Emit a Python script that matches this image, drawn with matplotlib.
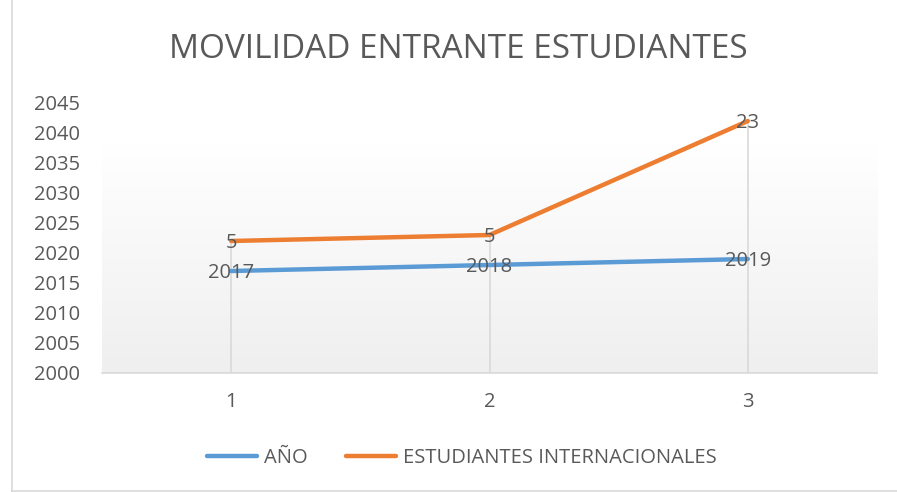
import numpy as np
import matplotlib.pyplot as plt
from matplotlib.lines import Line2D
from matplotlib.colors import LinearSegmentedColormap

# chart data (stacked line chart, Excel style)
categories = [1, 2, 3]
anio = [2017, 2018, 2019]
estudiantes = [5, 5, 23]
yticks = list(range(2000, 2050, 5))

blue = '#5b9bd5'
orange = '#ed7d31'
text_gray = '#595959'
grid_gray = '#d9d9d9'

plt.rcParams['font.family'] = ['Open Sans', 'DejaVu Sans']

fig = plt.figure(figsize=(8.97, 4.92), dpi=100)
W, H = 897, 492
ax = fig.add_axes([102 / W, 1 - 373 / H, 775 / W, 270 / H])

# gradient background of the plot area
grad = np.linspace(0, 1, 256).reshape(-1, 1)
bg = LinearSegmentedColormap.from_list('bg', [(0, '#ffffff'), (0.15, '#ffffff'), (1, '#efefef')])
ax.imshow(grad, extent=[0, 1, 0, 1], transform=ax.transAxes, aspect='auto',
          cmap=bg, origin='upper', zorder=0)

stacked = [a + e for a, e in zip(anio, estudiantes)]

# drop lines from top series to the axis
for x, top in zip(categories, stacked):
    ax.plot([x, x], [2000, top], color=grid_gray, lw=1.2, zorder=1)

ax.plot(categories, anio, color=blue, lw=3.2, solid_capstyle='round', zorder=3)
ax.plot(categories, stacked, color=orange, lw=3.2, solid_capstyle='round', zorder=3)

for x, y, v in zip(categories, anio, anio):
    ax.text(x, y - 0.3, str(v), ha='center', va='center', fontsize=14.5, color=text_gray, zorder=4)
for x, y, v in zip(categories, stacked, estudiantes):
    ax.text(x, y - 0.3, str(v), ha='center', va='center', fontsize=14.5, color=text_gray, zorder=4)

ax.set_xlim(0.5, 3.5)
ax.set_ylim(2000, 2045)
ax.set_xticks(categories)
ax.set_yticks(yticks)
ax.tick_params(axis='both', length=0, labelsize=14.5, labelcolor=text_gray)
ax.tick_params(axis='x', pad=14)
ax.tick_params(axis='y', pad=16)
for side in ['top', 'right', 'left']:
    ax.spines[side].set_visible(False)
ax.spines['bottom'].set_color(grid_gray)
ax.spines['bottom'].set_linewidth(1.2)

fig.text(458 / W, 1 - 50 / H, 'MOVILIDAD ENTRANTE ESTUDIANTES', ha='center', va='center',
         fontsize=24, color=text_gray)

handles = [Line2D([], [], color=blue, lw=3.2, solid_capstyle='round'),
           Line2D([], [], color=orange, lw=3.2, solid_capstyle='round')]
fig.legend(handles, ['AÑO', 'ESTUDIANTES INTERNACIONALES'], loc='center',
           bbox_to_anchor=(462 / W, 1 - 458 / H), ncol=2, frameon=False,
           fontsize=14.5, labelcolor=text_gray, handlelength=2.5, handletextpad=0.35,
           columnspacing=1.9)

# outer chart border
fig.add_artist(Line2D([12 / W, 12 / W], [0, 1], transform=fig.transFigure, color=grid_gray, lw=1.2))
fig.add_artist(Line2D([12 / W, 1], [1 / H, 1 / H], transform=fig.transFigure, color=grid_gray, lw=1.2))

fig.savefig('out.png', dpi=100)
